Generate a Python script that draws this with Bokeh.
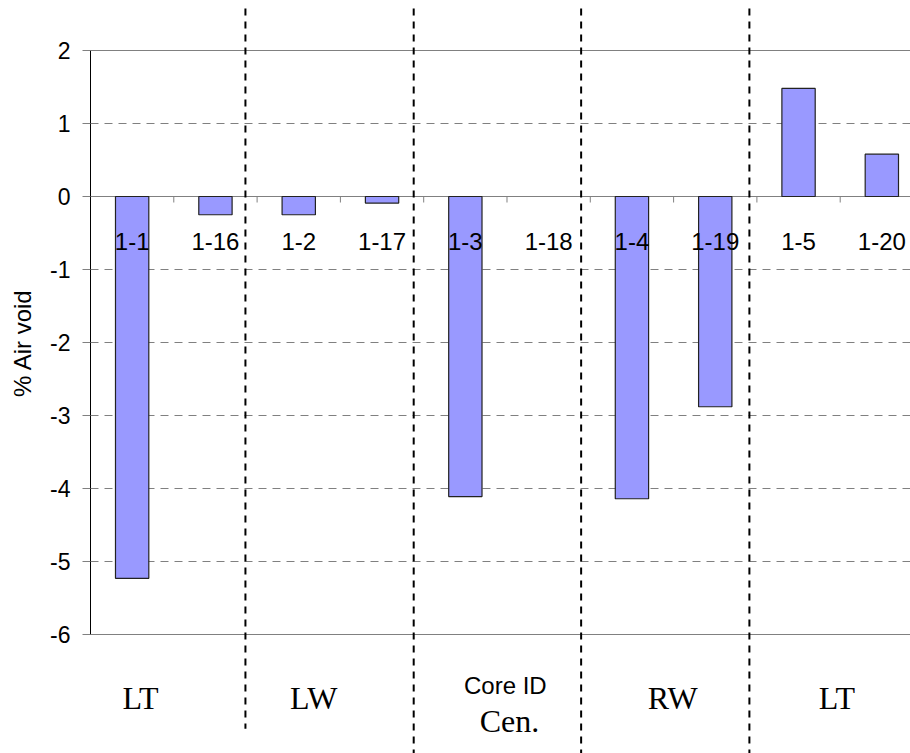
from math import pi
from bokeh.plotting import figure
from bokeh.models import Range1d, FixedTicker, Grid, ColumnDataSource
from bokeh.core.properties import value
from bokeh.embed import file_html
from bokeh.resources import INLINE

# ---- data ----
core_ids = ["1-1", "1-16", "1-2", "1-17", "1-3", "1-18", "1-4", "1-19", "1-5", "1-20"]
air_void = [-5.23, -0.25, -0.25, -0.09, -4.11, float("nan"), -4.14, -2.88, 1.48, 0.58]
y_ticks = [-6, -5, -4, -3, -2, -1, 0, 1, 2]
group_names = ["LT", "LW", "Cen.", "RW", "LT"]
axis_title = "Core ID"
y_title = "% Air void"

SANS = "Liberation Sans"
SERIF = "Liberation Serif"

n = len(core_ids)
centers = [i + 0.5 for i in range(n)]
src = ColumnDataSource(dict(x=centers, top=air_void, label=core_ids))

X_LEFT, X_RIGHT = -1.0804, 9.844
Y_TOP, Y_BOT = 2.685, -7.630

p = figure(width=910, height=753,
           x_range=Range1d(X_LEFT, X_RIGHT), y_range=Range1d(Y_BOT, Y_TOP),
           x_axis_type=None, toolbar_location=None, output_backend="svg",
           min_border_left=0, min_border_right=0, min_border_top=0, min_border_bottom=0)
p.outline_line_color = None
p.background_fill_color = "white"

# y axis, crossing the category axis at x = 0
yax = p.yaxis[0]
yax.fixed_location = 0
yax.ticker = FixedTicker(ticks=y_ticks)
yax.bounds = (-6, 2)
yax.axis_line_color = "black"
yax.axis_line_width = 1
yax.major_tick_out = 8
yax.major_tick_in = 0
yax.major_tick_line_color = "#808080"
yax.minor_tick_line_color = None
yax.major_label_standoff = 12
yax.major_label_text_font = SANS
yax.major_label_text_font_size = "23px"
yax.major_label_text_color = "black"
yax.major_label_overrides = {t: str(t) for t in y_ticks}

# grid lines
p.ygrid.ticker = FixedTicker(ticks=[t for t in y_ticks if t not in (-6, 0, 2)])
p.ygrid.grid_line_color = "#808080"
p.ygrid.grid_line_dash = "8 6"
p.ygrid.grid_line_width = 1
p.ygrid.cross_bounds = (0, X_RIGHT)
p.xgrid.grid_line_color = None
solid = Grid(dimension=1, ticker=FixedTicker(ticks=[-6, 0, 2]),
             grid_line_color="#808080", grid_line_width=1, cross_bounds=(0, X_RIGHT))
p.add_layout(solid)

# bars
p.vbar(x="x", top="top", bottom=0, width=0.4, source=src,
       fill_color="#9999FF", line_color="#222222", line_width=1.2)

# category tick marks on the zero line
p.ray(x=list(range(1, n)), y=[0] * (n - 1), length=6, length_units="screen",
      angle=-pi / 2, line_color="#808080", line_width=1)

# category labels
p.text(x="x", y=0, text="label", source=src, y_offset=45,
       text_font=value(SANS), text_font_size="24px", text_align="center",
       text_baseline="alphabetic", text_color="black")

# group dividers (dashed vertical lines)
div_x = [1.86, 3.88, 5.89, 7.91]
div_top = [2.575] * 4
div_bottom = [-7.29, Y_BOT, Y_BOT, Y_BOT]
p.segment(x0=div_x, y0=div_top, x1=div_x, y1=div_bottom,
          line_color="black", line_width=2, line_dash="7 6")

# group names
gx = [0.60, 2.68, 5.03, 6.99, 8.96]
gy = [-6.863, -6.863, -7.185, -6.863, -6.863]
p.text(x=gx, y=gy, text=group_names, text_font=value(SERIF), text_font_size="32px",
       text_align="center", text_baseline="alphabetic", text_color="black")
p.text(x=[4.98], y=[-6.70], text=[axis_title], text_font=value(SANS), text_font_size="24px",
       text_align="center", text_baseline="alphabetic", text_color="black")

# y title
p.text(x=[-0.816], y=[-2.007], text=[y_title], angle=pi / 2,
       text_font=value(SANS), text_font_size="24px", text_align="center",
       text_baseline="middle", text_color="black")

open("out.html", "w").write(file_html(p, INLINE))
